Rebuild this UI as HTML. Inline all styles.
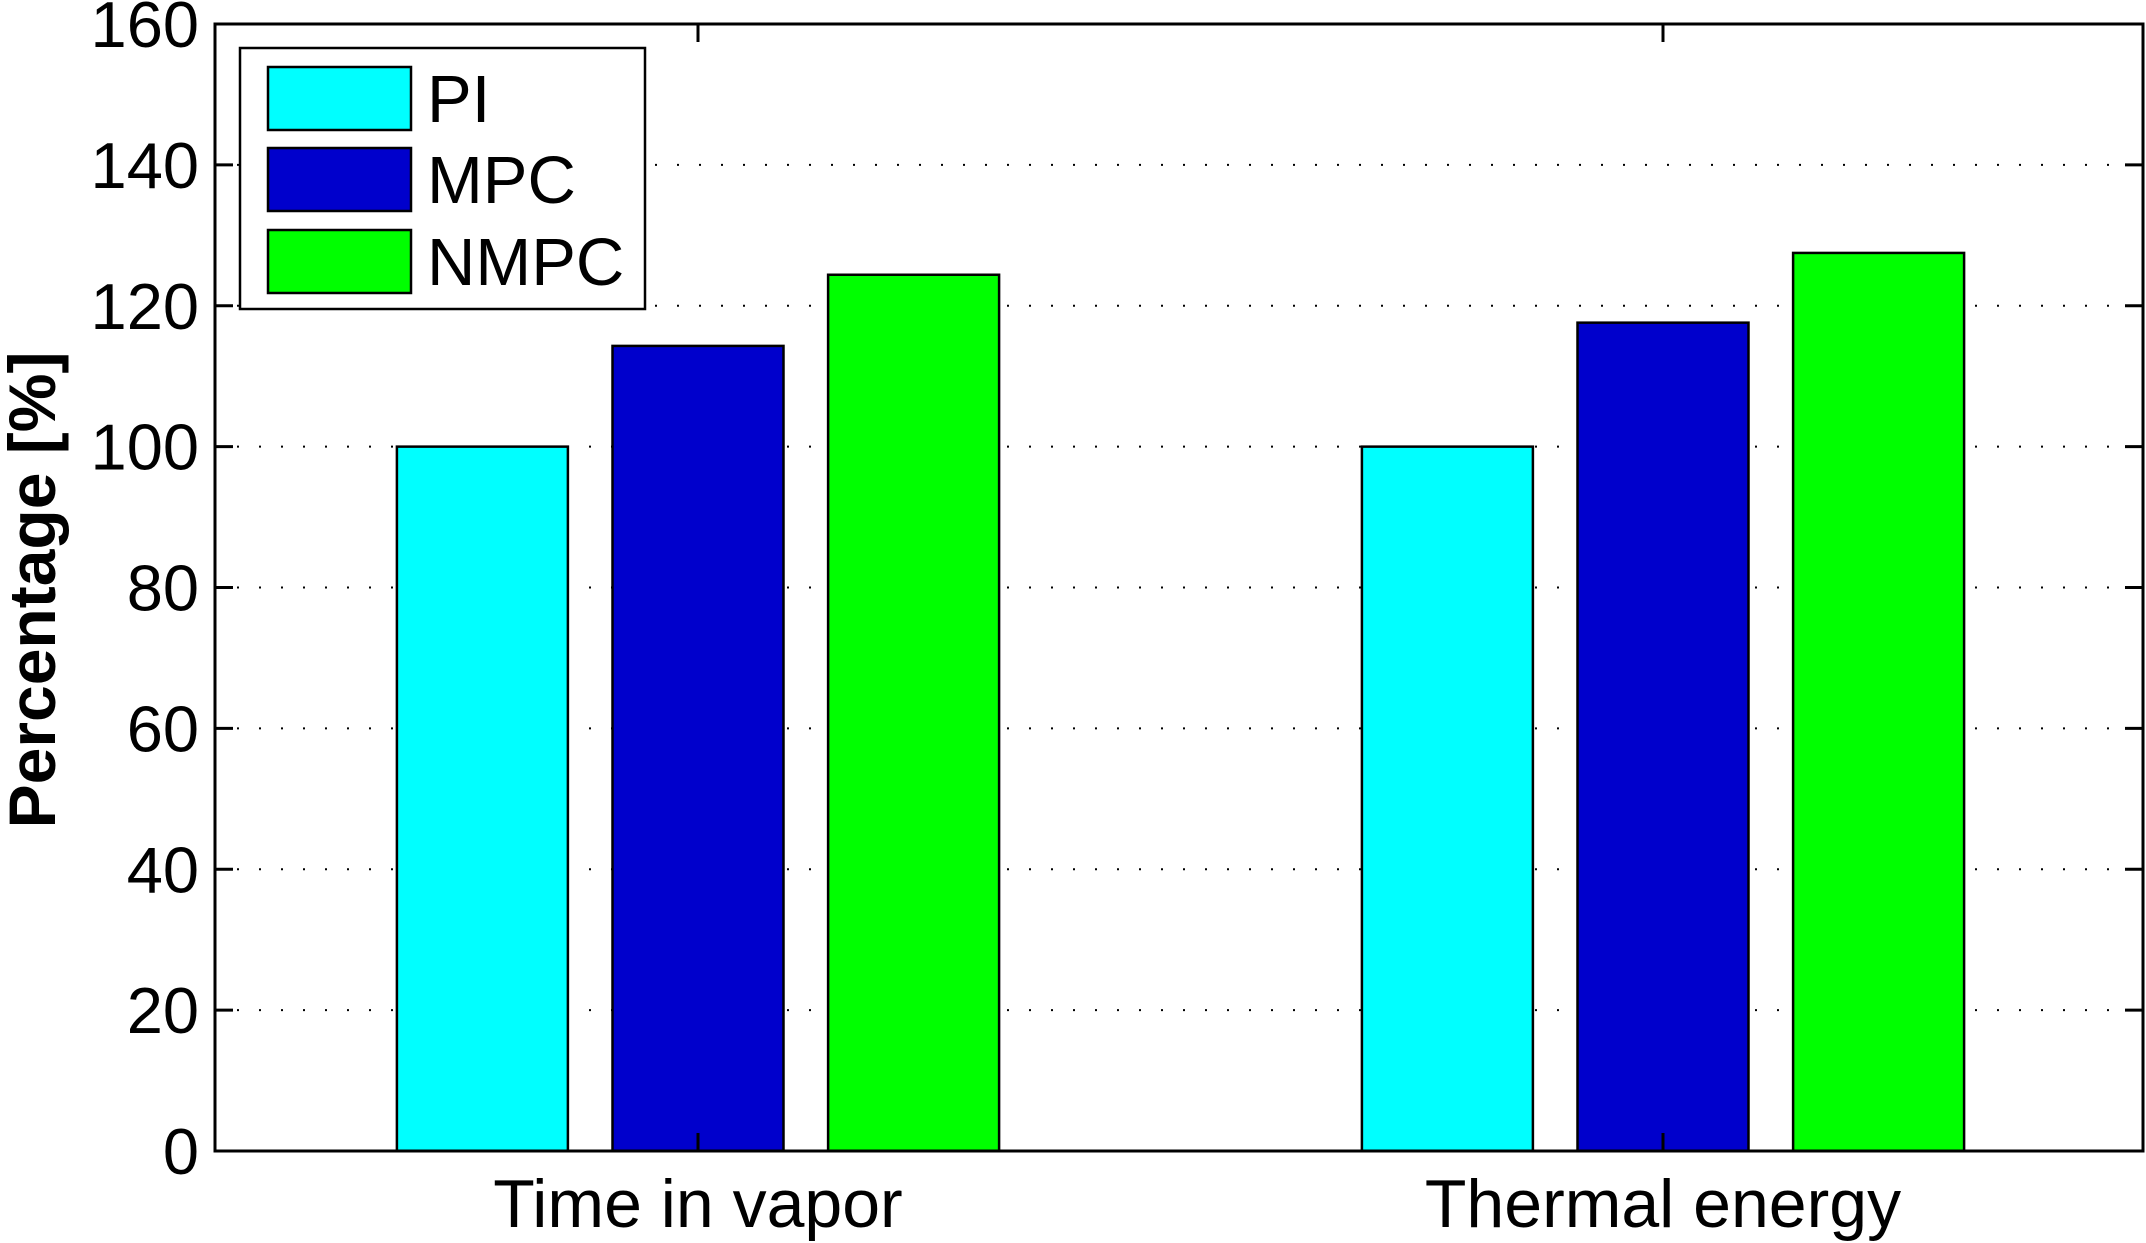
<!DOCTYPE html>
<html><head><meta charset="utf-8"><style>
html,body{margin:0;padding:0;background:#fff;}
svg{display:block;font-family:"Liberation Sans",Arial,sans-serif;}
</style></head><body>
<svg id="chart" width="2146" height="1243" viewBox="0 0 2146 1243">
<g id="grid"></g>
<g id="bars"></g>
<g id="axes"></g>
<g id="legend"></g>
<text x="0" y="0" transform="translate(55,590) rotate(-90)" text-anchor="middle" font-size="66" font-weight="bold">Percentage [%]</text>
</svg>
<script>
const categories = ["Time in vapor", "Thermal energy"];
const seriesNames = ["PI", "MPC", "NMPC"];
const seriesColors = ["#00ffff", "#0000cc", "#00ff00"];
const piValues = [100, 100];
const mpcValues = [114.3, 117.6];
const nmpcValues = [124.4, 127.5];
const yTicks = [0, 20, 40, 60, 80, 100, 120, 140, 160];

const NS = "http://www.w3.org/2000/svg";
const L = 215, R = 2143, T = 24, B = 1151;
const yMin = 0, yMax = 160;
function y(v){ return B - (v - yMin) / (yMax - yMin) * (B - T); }
const groupCenters = [698, 1663];
function xc(i){ return groupCenters[i]; }
const barW = 171, barStep = 215.6;
function mk(tag, attrs, parent){ const e = document.createElementNS(NS, tag); for (const k in attrs) e.setAttribute(k, attrs[k]); parent.appendChild(e); return e; }

const grid = document.getElementById('grid');
yTicks.forEach(t => {
  if (t === yMin || t === yMax) return;
  const l = mk('line', {x1:L, x2:R, y1:y(t), y2:y(t), stroke:'#000', 'stroke-width':2, 'stroke-dasharray':'2 20'}, grid);
  
  
});

const bars = document.getElementById('bars');
const allSeries = [piValues, mpcValues, nmpcValues];
allSeries.forEach((vals, s) => {
  vals.forEach((v, i) => {
    const cx = xc(i) + (s - 1) * barStep;
    const r = mk('rect', {x:cx - barW/2, y:y(v), width:barW, height:y(0) - y(v), fill:seriesColors[s], stroke:'#000', 'stroke-width':2.5}, bars);
    
    
  });
});

const axes = document.getElementById('axes');
const frame = mk('rect', {x:L, y:T, width:R-L, height:B-T, fill:'none', stroke:'#000', 'stroke-width':3}, axes);


yTicks.forEach(t => {
  mk('line', {x1:L, x2:L+18, y1:y(t), y2:y(t), stroke:'#000', 'stroke-width':3}, axes);
  mk('line', {x1:R-18, x2:R, y1:y(t), y2:y(t), stroke:'#000', 'stroke-width':3}, axes);
  const tx = mk('text', {x:199, y:y(t)+23, 'text-anchor':'end', 'font-size':65}, axes);
  tx.textContent = t;
  
  
});
categories.forEach((c, i) => {
  mk('line', {x1:xc(i), x2:xc(i), y1:B, y2:B-18, stroke:'#000', 'stroke-width':3}, axes);
  mk('line', {x1:xc(i), x2:xc(i), y1:T, y2:T+18, stroke:'#000', 'stroke-width':3}, axes);
  const tx = mk('text', {x:xc(i), y:1227, 'text-anchor':'middle', 'font-size':68}, axes);
  tx.textContent = c;
  
  
});

const legend = document.getElementById('legend');
const box = mk('rect', {x:240, y:48, width:405, height:261, fill:'#fff', stroke:'#000', 'stroke-width':2.5}, legend);


const rowY = [67, 148, 230];
seriesNames.forEach((n, s) => {
  const g = mk('g', {}, legend);
  
  
  mk('rect', {x:268, y:rowY[s], width:143, height:63, fill:seriesColors[s], stroke:'#000', 'stroke-width':2.5}, g);
  const tx = mk('text', {x:427, y:rowY[s]+55, 'font-size':67}, g);
  tx.textContent = n;
});
</script>
</body></html>
